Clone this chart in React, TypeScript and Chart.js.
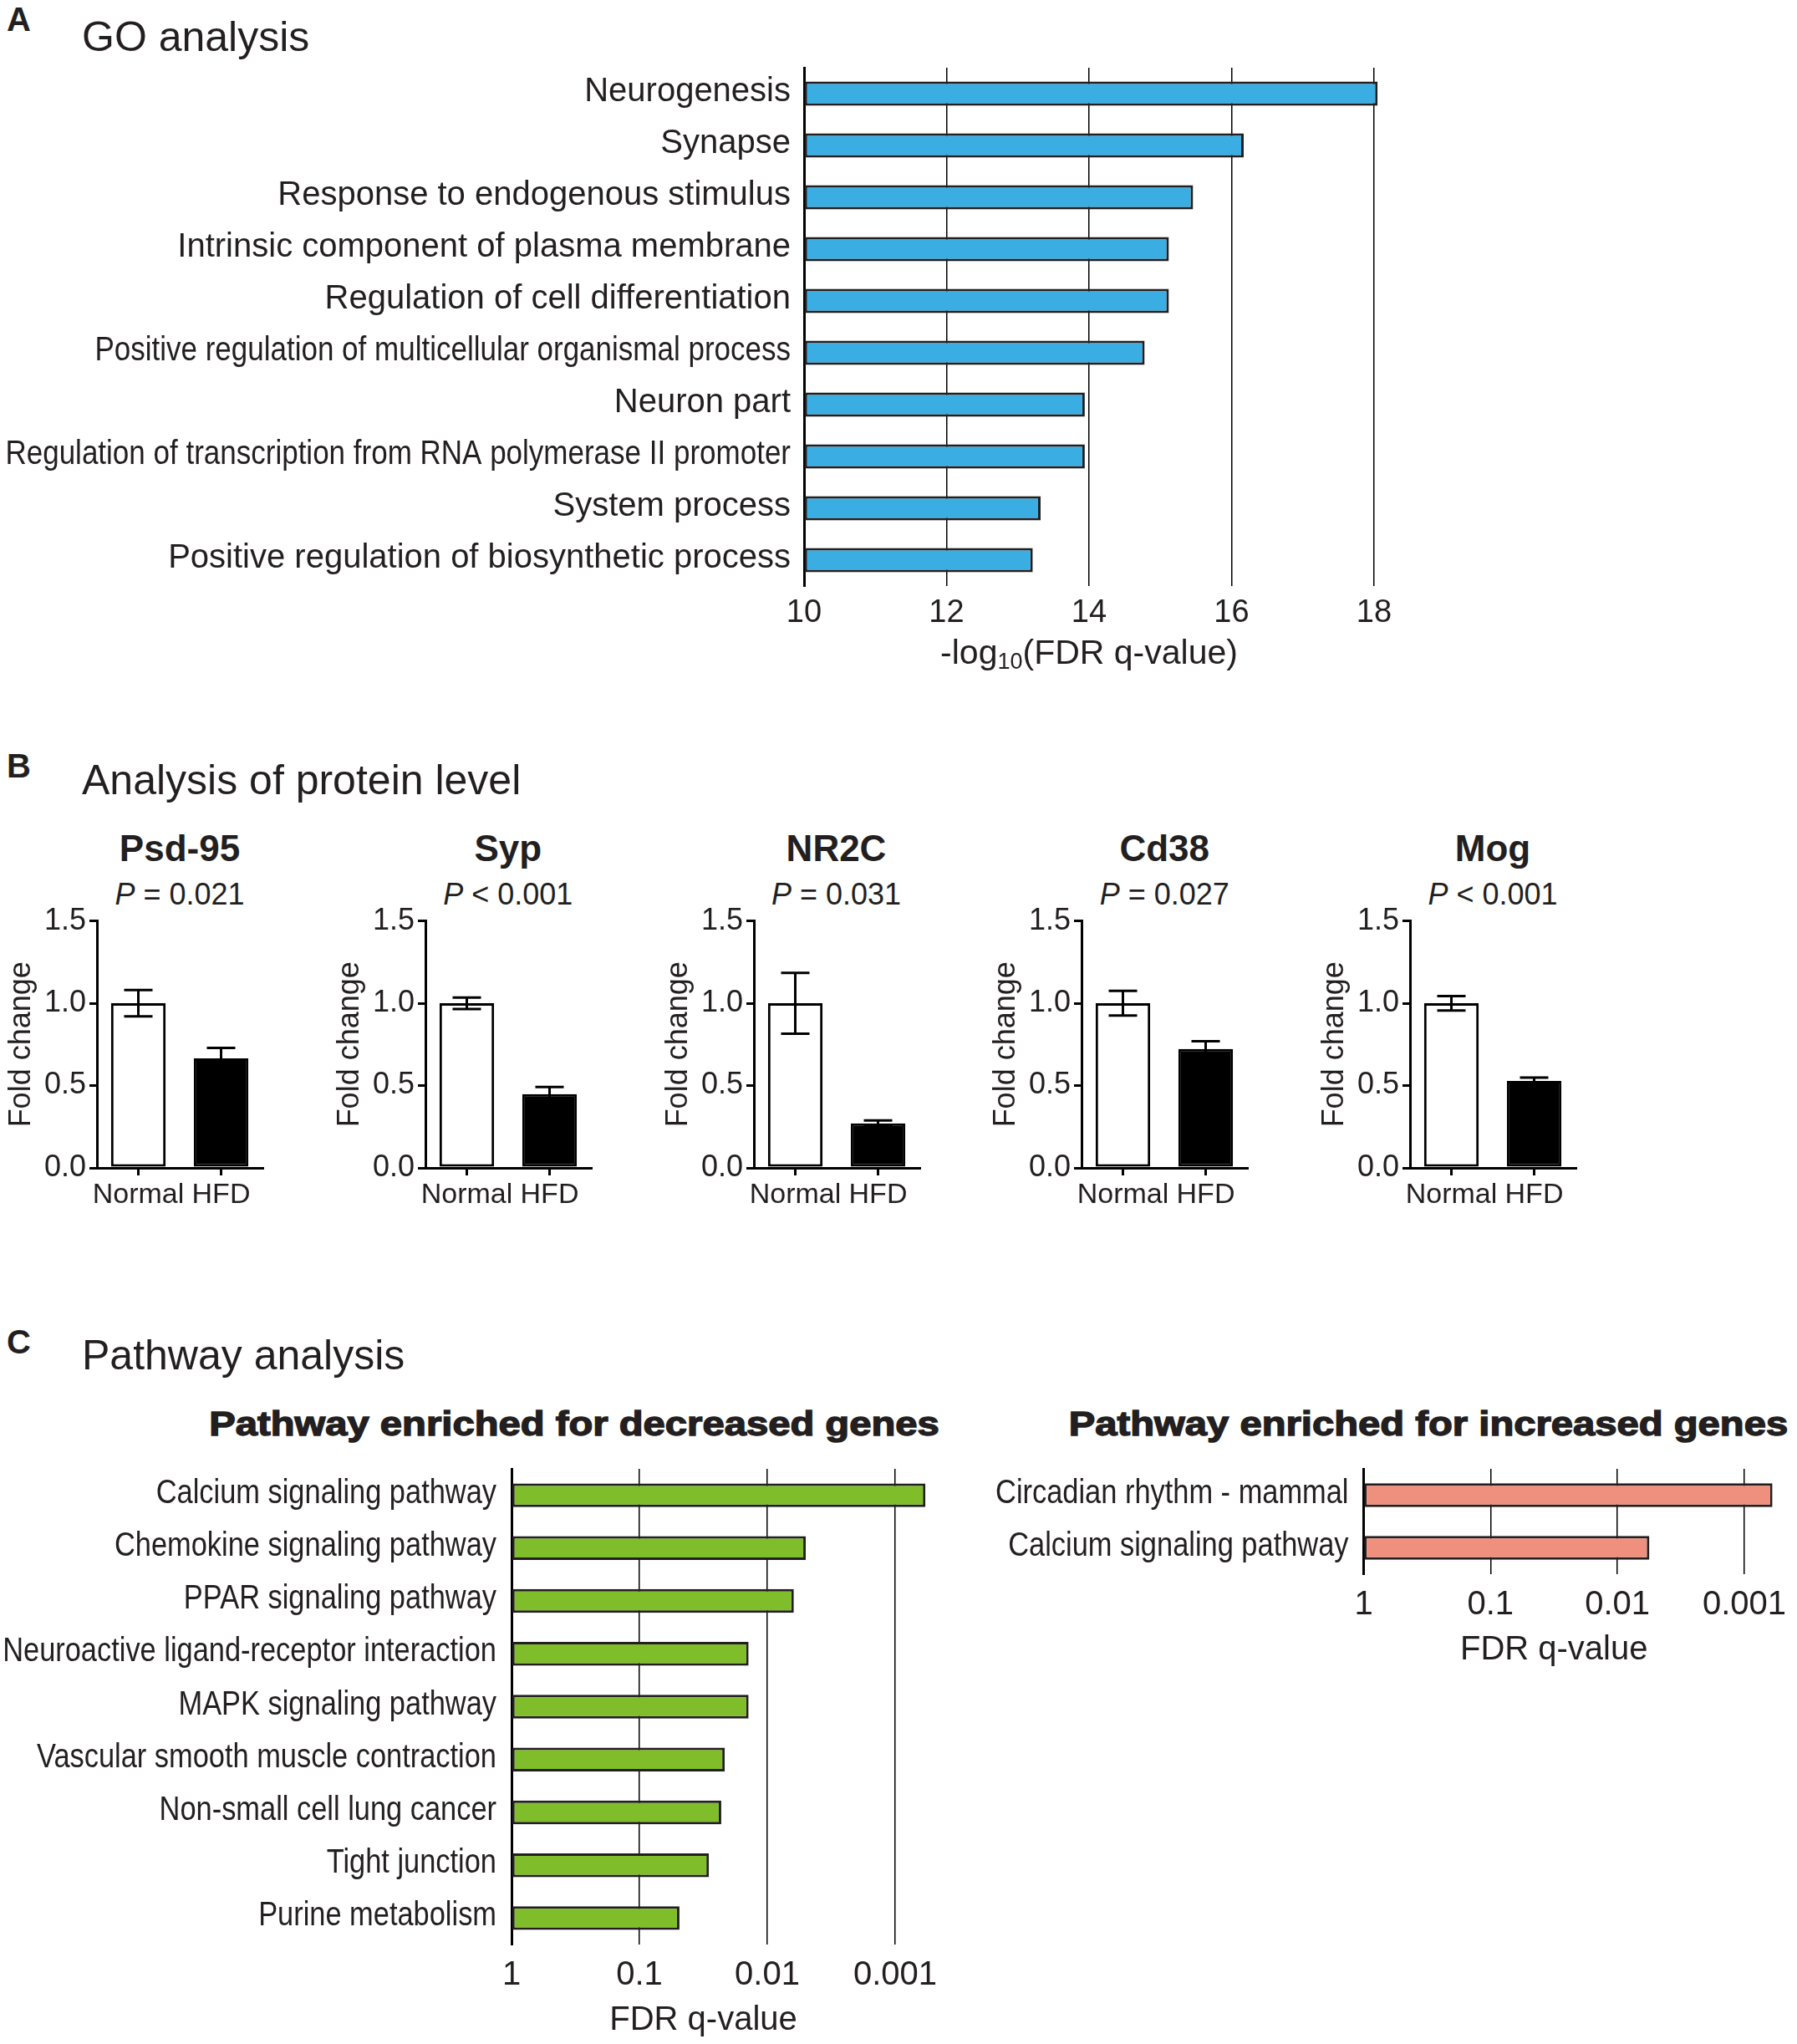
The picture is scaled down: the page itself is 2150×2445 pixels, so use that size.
import React, { useEffect, useRef } from 'react';
import { Chart, registerables } from 'chart.js';

Chart.register(...registerables);

const FONT = "'Liberation Sans', Arial, Helvetica, sans-serif";
const INK = '#231f20';
Chart.defaults.font.family = FONT;
Chart.defaults.color = INK;

// ---------- Panel A: GO analysis ----------
const goTerms = [
  'Neurogenesis',
  'Synapse',
  'Response to endogenous stimulus',
  'Intrinsic component of plasma membrane',
  'Regulation of cell differentiation',
  'Positive regulation of multicellular organismal process',
  'Neuron part',
  'Regulation of transcription from RNA polymerase II promoter',
  'System process',
  'Positive regulation of biosynthetic process',
];
const goNegLogFdr = [18.05, 16.17, 15.46, 15.12, 15.12, 14.78, 13.94, 13.94, 13.32, 13.21];
const goTicks = [10, 12, 14, 16, 18];

// ---------- Panel B: protein levels ----------
const proteins = ['Psd-95', 'Syp', 'NR2C', 'Cd38', 'Mog'];
const pTexts = ['= 0.021', '< 0.001', '= 0.031', '= 0.027', '< 0.001'];
const groups = ['Normal', 'HFD'];
const normalMean = [1.0, 1.0, 1.0, 1.0, 1.0];
const normalErr = [0.08, 0.035, 0.185, 0.075, 0.044];
const hfdMean = [0.665, 0.448, 0.271, 0.722, 0.528];
const hfdErr = [0.064, 0.043, 0.017, 0.047, 0.02];
const foldTicks = [0, 0.5, 1.0, 1.5];

// ---------- Panel C: pathway analysis ----------
const decTerms = [
  'Calcium signaling pathway',
  'Chemokine signaling pathway',
  'PPAR signaling pathway',
  'Neuroactive ligand-receptor interaction',
  'MAPK signaling pathway',
  'Vascular smooth muscle contraction',
  'Non-small cell lung cancer',
  'Tight junction',
  'Purine metabolism',
];
const decFdr = [0.00058, 0.005, 0.0062, 0.014, 0.014, 0.0215, 0.0229, 0.0286, 0.0486];
const incTerms = ['Circadian rhythm - mammal', 'Calcium signaling pathway'];
const incFdr = [0.0006, 0.0056];
const fdrTicks = [1, 0.1, 0.01, 0.001];

const BLUE = '#3aade3';
const GREEN = '#80bd2b';
const SALMON = '#ef907e';

// Draws the category labels of a horizontal bar chart (right aligned, optionally condensed)
const yLabelPlugin = {
  id: 'yLabels',
  afterDraw(chart: any, _args: any, opts: any) {
    const scale = chart.scales.y;
    const ctx = chart.ctx;
    ctx.save();
    ctx.font = `${opts.size}px ${FONT}`;
    ctx.fillStyle = INK;
    ctx.textAlign = 'right';
    ctx.textBaseline = 'middle';
    (chart.data.labels as string[]).forEach((lab, i) => {
      const y = scale.getPixelForTick(i);
      const w = ctx.measureText(lab).width;
      const sx = w > opts.condenseOver ? opts.condense : 1;
      ctx.save();
      ctx.translate(scale.right - opts.gap, y + opts.dy);
      ctx.scale(sx, 1);
      ctx.fillText(lab, 0, 0);
      ctx.restore();
    });
    ctx.restore();
  },
};

// Error bars (mean ± error) drawn through the y scale
const errorBarPlugin = {
  id: 'errorBars',
  afterDatasetsDraw(chart: any, _args: any, opts: any) {
    const meta = chart.getDatasetMeta(0);
    const ys = chart.scales.y;
    const ctx = chart.ctx;
    const values = chart.data.datasets[0].data as number[];
    ctx.save();
    ctx.strokeStyle = '#000';
    ctx.lineWidth = opts.lineWidth;
    meta.data.forEach((bar: any, i: number) => {
      const m = values[i];
      const e = opts.errors[i];
      const yT = ys.getPixelForValue(m + e);
      const yB = ys.getPixelForValue(m - e);
      const x = bar.x;
      const h = opts.capHalf;
      ctx.beginPath();
      ctx.moveTo(x, yT);
      ctx.lineTo(x, yB);
      ctx.moveTo(x - h, yT);
      ctx.lineTo(x + h, yT);
      ctx.moveTo(x - h, yB);
      ctx.lineTo(x + h, yB);
      ctx.stroke();
    });
    ctx.restore();
  },
};

function ChartCanvas({ left, top, width, height, make }: { left: number; top: number; width: number; height: number; make: () => any }) {
  const ref = useRef<HTMLCanvasElement | null>(null);
  useEffect(() => {
    const chart = new Chart(ref.current as HTMLCanvasElement, make());
    return () => chart.destroy();
  }, []);
  return (
    <canvas
      ref={ref}
      width={width}
      height={height}
      style={{ position: 'absolute', left, top, width, height }}
    />
  );
}

function goConfig() {
  return {
    type: 'bar',
    data: {
      labels: goTerms,
      datasets: [
        {
          data: goNegLogFdr,
          base: 10,
          backgroundColor: BLUE,
          borderColor: INK,
          borderWidth: 3,
          borderSkipped: false,
          barPercentage: 0.47,
          categoryPercentage: 1,
          clip: false,
        },
      ],
    },
    plugins: [yLabelPlugin],
    options: {
      indexAxis: 'y',
      animation: false,
      responsive: false,
      layout: { padding: { top: 81, right: 56, left: 0, bottom: 0 } },
      plugins: {
        legend: { display: false },
        tooltip: { enabled: false },
        yLabels: { size: 40, gap: 16, condenseOver: 800, condense: 0.875, dy: -2 },
      },
      scales: {
        y: {
          type: 'category',
          grid: { display: false },
          border: { display: true, width: 3, color: '#000' },
          ticks: { display: false },
          afterFit: (s: any) => {
            s.width = 962;
          },
        },
        x: {
          type: 'linear',
          min: 10,
          max: 18,
          afterBuildTicks: (s: any) => {
            s.ticks = goTicks.map((v) => ({ value: v }));
          },
          grid: { color: '#000', lineWidth: 1.5, drawTicks: false },
          border: { display: false },
          ticks: { font: { size: 38 }, color: INK, padding: 10, maxRotation: 0 },
          afterFit: (s: any) => {
            s.height = 120;
          },
        },
      },
    },
  };
}

function proteinConfig(i: number) {
  return {
    type: 'bar',
    data: {
      labels: groups,
      datasets: [
        {
          data: [normalMean[i], hfdMean[i]],
          backgroundColor: ['#ffffff', '#000000'],
          borderColor: '#000',
          borderWidth: 3,
          borderSkipped: false,
          barPercentage: 0.66,
          categoryPercentage: 1,
        },
      ],
    },
    plugins: [errorBarPlugin],
    options: {
      animation: false,
      responsive: false,
      layout: { padding: { top: 25, right: 20, left: 0, bottom: 0 } },
      plugins: {
        legend: { display: false },
        tooltip: { enabled: false },
        errorBars: { errors: [normalErr[i], hfdErr[i]], lineWidth: 3, capHalf: 17 },
      },
      scales: {
        x: {
          type: 'category',
          grid: { display: true, drawOnChartArea: false, drawTicks: true, tickLength: 9, lineWidth: 3, color: '#000', offset: false },
          border: { display: true, width: 3, color: '#000' },
          ticks: { font: { size: 34 }, color: INK, padding: 3, maxRotation: 0, minRotation: 0, autoSkip: false },
          afterFit: (s: any) => {
            s.height = 60;
          },
        },
        y: {
          type: 'linear',
          min: 0,
          max: 1.5,
          afterBuildTicks: (s: any) => {
            s.ticks = foldTicks.map((v) => ({ value: v }));
          },
          ticks: { callback: (v: any) => Number(v).toFixed(1), font: { size: 36 }, color: INK, padding: 4 },
          grid: { drawOnChartArea: false, drawTicks: true, tickLength: 9, lineWidth: 3, color: '#000' },
          border: { display: true, width: 3, color: '#000' },
          title: { display: true, text: 'Fold change', font: { size: 36 }, color: INK, padding: { top: 4, bottom: 0 } },
          afterFit: (s: any) => {
            s.width = 116;
          },
        },
      },
    },
  };
}

function pathwayConfig(terms: string[], fdr: number[], color: string, yWidth: number, padRight: number) {
  return {
    type: 'bar',
    data: {
      labels: terms,
      datasets: [
        {
          data: fdr,
          base: 1,
          backgroundColor: color,
          borderColor: INK,
          borderWidth: 3,
          borderSkipped: false,
          barPercentage: 0.45,
          categoryPercentage: 1,
          clip: false,
        },
      ],
    },
    plugins: [yLabelPlugin],
    options: {
      indexAxis: 'y',
      animation: false,
      responsive: false,
      layout: { padding: { top: 22, right: padRight, left: 0, bottom: 0 } },
      plugins: {
        legend: { display: false },
        tooltip: { enabled: false },
        yLabels: { size: 40, gap: 18, condenseOver: 0, condense: 0.86, dy: -2 },
      },
      scales: {
        y: {
          type: 'category',
          grid: { display: false },
          border: { display: true, width: 3, color: '#000' },
          ticks: { display: false },
          afterFit: (s: any) => {
            s.width = yWidth;
          },
        },
        x: {
          type: 'logarithmic',
          reverse: true,
          min: 0.001,
          max: 1,
          afterBuildTicks: (s: any) => {
            s.ticks = fdrTicks.map((v) => ({ value: v }));
          },
          grid: { color: '#000', lineWidth: 1.5, drawTicks: false },
          border: { display: false },
          ticks: { callback: (v: any) => String(v), font: { size: 40 }, color: INK, padding: 13, maxRotation: 0 },
          title: { display: true, text: 'FDR q-value', font: { size: 40 }, color: INK, padding: { top: 0, bottom: 3 } },
          afterFit: (s: any) => {
            s.height = 118;
          },
        },
      },
    },
  };
}

const abs = (left: number, top: number, extra: React.CSSProperties = {}): React.CSSProperties => ({
  position: 'absolute',
  left,
  top,
  lineHeight: 1,
  whiteSpace: 'nowrap',
  ...extra,
});

export default function App() {
  const panelB = proteins.map((_, i) => 116 + i * 392.75);
  return (
    <div
      style={{
        position: 'absolute',
        left: 0,
        top: 0,
        width: 2150,
        height: 2445,
        background: '#fff',
        fontFamily: FONT,
        color: INK,
        overflow: 'hidden',
      }}
    >
      {/* Panel A */}
      <div style={abs(8, 23, { transform: 'translateY(-50%)', fontWeight: 700, fontSize: 40 })}>A</div>
      <div style={abs(98, 44, { transform: 'translateY(-50%)', fontSize: 50 })}>GO analysis</div>
      <ChartCanvas left={0} top={0} width={1700} height={821} make={goConfig} />
      <div style={abs(1303, 780, { transform: 'translate(-50%,-50%)', fontSize: 41 })}>
        -log<span style={{ fontSize: 27, position: 'relative', top: 6 }}>10</span>(FDR q-value)
      </div>

      {/* Panel B */}
      <div style={abs(8, 916, { transform: 'translateY(-50%)', fontWeight: 700, fontSize: 40 })}>B</div>
      <div style={abs(98, 933, { transform: 'translateY(-50%)', fontSize: 50 })}>Analysis of protein level</div>
      {proteins.map((name, i) => (
        <React.Fragment key={name}>
          <div style={abs(panelB[i] + 99, 1015, { transform: 'translate(-50%,-50%)', fontWeight: 700, fontSize: 44 })}>{name}</div>
          <div style={abs(panelB[i] + 99, 1070, { transform: 'translate(-50%,-50%)', fontSize: 36 })}>
            <i>P</i>
            {' ' + pTexts[i]}
          </div>
          <ChartCanvas left={panelB[i] - 116} top={1076} width={334} height={381} make={() => proteinConfig(i)} />
        </React.Fragment>
      ))}

      {/* Panel C */}
      <div style={abs(8, 1605, { transform: 'translateY(-50%)', fontWeight: 700, fontSize: 40 })}>C</div>
      <div style={abs(98, 1621, { transform: 'translateY(-50%)', fontSize: 50 })}>Pathway analysis</div>
      <div
        style={abs(687, 1703, {
          transform: 'translate(-50%,-50%) scaleX(1.18)',
          fontWeight: 700,
          fontSize: 40,
          WebkitTextStroke: `1.4px ${INK}`,
        })}
      >
        Pathway enriched for decreased genes
      </div>
      <div
        style={abs(1709, 1703, {
          transform: 'translate(-50%,-50%) scaleX(1.18)',
          fontWeight: 700,
          fontSize: 40,
          WebkitTextStroke: `1.4px ${INK}`,
        })}
      >
        Pathway enriched for increased genes
      </div>
      <ChartCanvas left={0} top={1735} width={1150} height={709} make={() => pathwayConfig(decTerms, decFdr, GREEN, 612, 79)} />
      <ChartCanvas left={1150} top={1735} width={1000} height={266} make={() => pathwayConfig(incTerms, incFdr, SALMON, 481.5, 62.5)} />
    </div>
  );
}
